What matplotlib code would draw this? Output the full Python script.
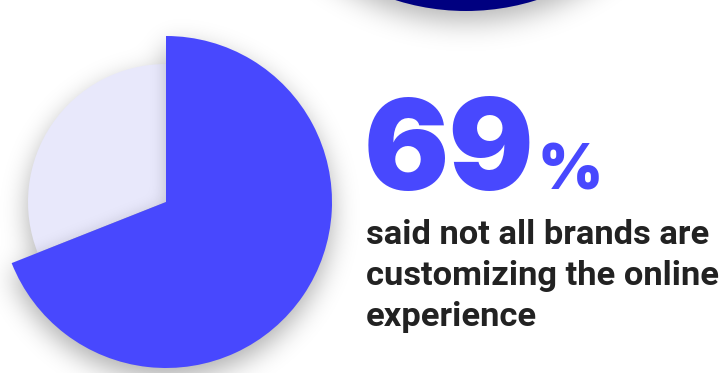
import numpy as np
import matplotlib.pyplot as plt

# survey share: brands not customizing vs the rest
shares = [69, 31]
slice_colors = ['#4848fe', '#e8e8fb']
caption = ['said not all brands are', 'customizing the online', 'experience']

W, H = 724, 373
fig = plt.figure(figsize=(W / 100, H / 100), dpi=100)
ax = fig.add_axes([0, 0, 1, 1])

cx, cy = 166, 171          # pie centre (pixels, y up)
r_big, r_small = 166, 138  # highlighted slice sticks out
navy_c, navy_r = (466, 596), 234

pad = 80
xs = np.arange(-pad, W + pad) + 0.5
ys = np.arange(-pad, H + pad) + 0.5
X, Y = np.meshgrid(xs, ys)
ext = [-pad, W + pad, -pad, H + pad]


def blur(img, s):
    k = np.arange(-3 * s, 3 * s + 1)
    g = np.exp(-k ** 2 / (2.0 * s * s))
    g /= g.sum()
    img = np.apply_along_axis(lambda v: np.convolve(v, g, mode='same'), 0, img)
    img = np.apply_along_axis(lambda v: np.convolve(v, g, mode='same'), 1, img)
    return img


def shade(alpha):
    rgba = np.zeros(alpha.shape + (4,))
    rgba[..., 3] = np.clip(alpha, 0, 1)
    return rgba


theta_end = 90 - 360 * shares[0] / sum(shares)


def pie_masks(dy):
    dx_, dy_ = X - cx, Y - (cy - dy)
    r = np.hypot(dx_, dy_)
    ang = np.degrees(np.arctan2(dy_, dx_))
    in_blue = (ang <= 90) & (ang >= theta_end)
    blue = (r <= r_big) & in_blue
    light = (r <= r_small) & ~in_blue
    return blue.astype(float), light.astype(float)


# drop shadow under the whole pie
b, l = pie_masks(10)
ax.imshow(shade(blur(np.maximum(b, l), 13) * 0.32), extent=ext, origin='lower', zorder=1)

# shadow under the navy disc at the top
navy = (np.hypot(X - navy_c[0], Y - (navy_c[1] - 10)) <= navy_r).astype(float)
ax.imshow(shade(blur(navy, 14) * 0.3), extent=ext, origin='lower', zorder=1)
ax.add_patch(plt.Circle(navy_c, navy_r, color='#000080', lw=0, zorder=4))

# light slice first, at the smaller radius
w_light, _ = ax.pie(shares, radius=r_small, center=(cx, cy), startangle=90,
                    counterclock=False, colors=['none', slice_colors[1]],
                    wedgeprops=dict(linewidth=0, zorder=2), frame=True)

# blue slice casts a soft shadow onto the light slice
b2, _ = pie_masks(3)
sh = ax.imshow(shade(blur(b2, 8) * 0.2), extent=ext, origin='lower', zorder=3)
sh.set_clip_path(w_light[1])

w_blue, _ = ax.pie(shares, radius=r_big, center=(cx, cy), startangle=90,
                   counterclock=False, colors=[slice_colors[0], 'none'],
                   wedgeprops=dict(linewidth=0, zorder=5), frame=True)

ax.text(364, 183, f'{shares[0]}', fontsize=91, fontfamily='Inter', fontweight='black',
        color=slice_colors[0], va='baseline', ha='left', zorder=6)
ax.text(538, 183, '%', fontsize=45, fontfamily='Inter', fontweight='black',
        color=slice_colors[0], va='baseline', ha='left', zorder=6)

for i, line in enumerate(caption):
    ax.text(366, 129 - 41 * i, line, fontsize=24.8, fontfamily='Roboto',
            fontweight='bold', color='#222222', va='baseline', ha='left', zorder=6)

ax.set_xlim(0, W)
ax.set_ylim(0, H)
ax.set_aspect('auto')
ax.axis('off')
fig.savefig('out.png', dpi=100, facecolor='white')
